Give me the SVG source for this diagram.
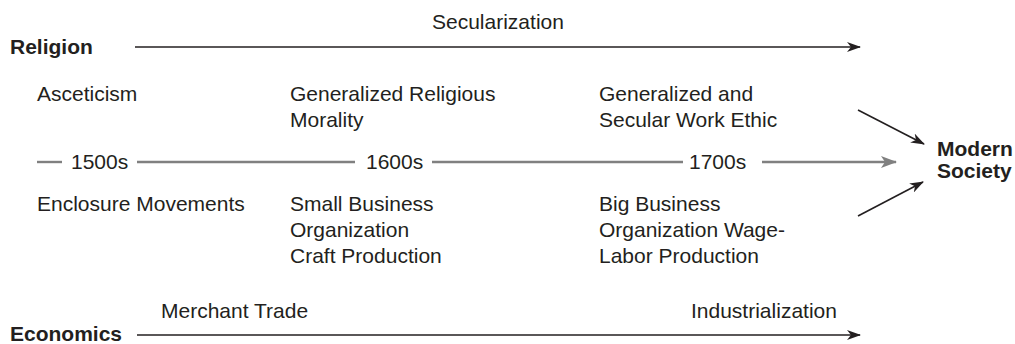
<svg xmlns="http://www.w3.org/2000/svg" width="1015" height="344" viewBox="0 0 1015 344">
<style>
text{font-family:"Liberation Sans",Arial,sans-serif;font-size:21px;fill:#231f20}
.b{font-weight:bold}
.dark{stroke:#231f20;stroke-width:1.6;fill:none}
.gray{stroke:#808080;stroke-width:2.4;fill:none}
</style>
<defs>
<marker id="ah" viewBox="0 0 14 10" refX="13" refY="5" markerWidth="14" markerHeight="10" markerUnits="userSpaceOnUse" orient="auto">
<path d="M0,0 L14,5 L0,10 L4,5 z" fill="#231f20"/>
</marker>
<marker id="ahg" viewBox="0 0 16 12" refX="15" refY="6" markerWidth="16" markerHeight="12" markerUnits="userSpaceOnUse" orient="auto">
<path d="M0,0 L16,6 L0,12 L4,6 z" fill="#808080"/>
</marker>
</defs>
<g id="connectors">
<line class="dark" x1="135" y1="47" x2="860" y2="47" marker-end="url(#ah)"/>
<line class="dark" x1="137" y1="335" x2="860" y2="335" marker-end="url(#ah)"/>
<line class="dark" x1="858" y1="110" x2="924" y2="144" marker-end="url(#ah)"/>
<line class="dark" x1="858" y1="216" x2="923" y2="182" marker-end="url(#ah)"/>
<line class="gray" x1="37" y1="162" x2="62" y2="162"/>
<line class="gray" x1="137" y1="162" x2="355" y2="162"/>
<line class="gray" x1="432" y1="162" x2="683" y2="162"/>
<line class="gray" x1="762" y1="162" x2="896" y2="162" marker-end="url(#ahg)"/>
</g>
<g id="religion"><text class="b" x="10" y="54">Religion</text></g>
<g id="secularization"><text x="432" y="29">Secularization</text></g>
<g id="asceticism"><text x="37" y="101">Asceticism</text></g>
<g id="gen-religious"><text x="290" y="101">Generalized Religious</text><text x="290" y="127">Morality</text></g>
<g id="gen-secular"><text x="599" y="101">Generalized and</text><text x="599" y="127">Secular Work Ethic</text></g>
<g id="y1500"><text x="71" y="169">1500s</text></g>
<g id="y1600"><text x="366" y="169">1600s</text></g>
<g id="y1700"><text x="689" y="169">1700s</text></g>
<g id="modern-society"><text class="b" x="937" y="156">Modern</text><text class="b" x="937" y="178">Society</text></g>
<g id="enclosure"><text x="37" y="211">Enclosure Movements</text></g>
<g id="small-business"><text x="290" y="211">Small Business</text><text x="290" y="237">Organization</text><text x="290" y="263">Craft Production</text></g>
<g id="big-business"><text x="599" y="211">Big Business</text><text x="599" y="237">Organization Wage-</text><text x="599" y="263">Labor Production</text></g>
<g id="merchant"><text x="161" y="318">Merchant Trade</text></g>
<g id="industrialization"><text x="691" y="318">Industrialization</text></g>
<g id="economics"><text class="b" x="10" y="341">Economics</text></g>
</svg>
